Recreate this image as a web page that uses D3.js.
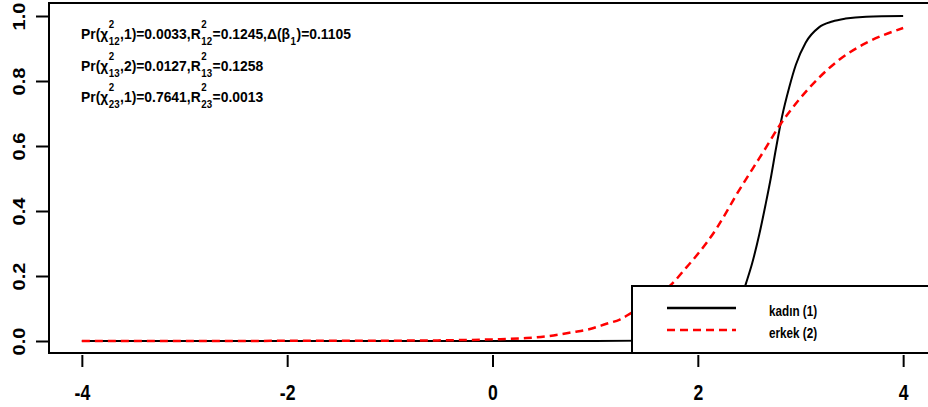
<!DOCTYPE html>
<html>
<head>
<meta charset="utf-8">
<script src="https://cdn.jsdelivr.net/npm/d3@7"></script>
<style>
  html, body { margin: 0; padding: 0; background: #fff; }
  svg { display: block; font-family: "Liberation Sans", Arial, sans-serif; }
</style>
</head>
<body>
<svg id="chart" width="928" height="407"></svg>
<script>
const width = 928;
const height = 407;
const svg = d3.select("#chart");

// values
const kadinX = [-4, -3, -2, -1, 0, 1, 2, 2.2, 2.3, 2.4, 2.47, 2.53, 2.6, 2.66, 2.71, 2.76, 2.82, 2.89, 2.955, 3.05, 3.18, 3.31, 3.44, 3.64, 4];
const kadinY = [0, 0, 0, 0, 0, 0, 0.005, 0.03, 0.06, 0.11, 0.178, 0.24, 0.33, 0.42, 0.5, 0.59, 0.69, 0.78, 0.85, 0.918, 0.965, 0.983, 0.992, 0.998, 1];

const erkekX = [-4, -3, -2, -1, -0.5, 0, 0.33, 0.52, 0.78, 0.95, 1.11, 1.24, 1.35, 1.55, 1.755, 1.885, 1.98, 2.08, 2.18, 2.27, 2.37, 2.47, 2.57, 2.65, 2.79, 2.99, 3.18, 3.38, 3.64, 4];
const erkekY = [0, 0, 0.0005, 0.001, 0.002, 0.005, 0.009, 0.014, 0.027, 0.037, 0.053, 0.066, 0.086, 0.125, 0.178, 0.225, 0.26, 0.30, 0.345, 0.392, 0.447, 0.498, 0.548, 0.588, 0.66, 0.744, 0.810, 0.866, 0.917, 0.963];

const xTicks = [-4, -2, 0, 2, 4];
const yTicks = [0, 0.2, 0.4, 0.6, 0.8, 1.0];
const legendLabels = ["kadın (1)", "erkek (2)"];

// annotation lines: plain text, {sub, sup} stacked scripts
const noteLines = [
  ["Pr(χ", {sub: "12", sup: "2"}, ",1)=0.0033,R", {sub: "12", sup: "2"}, "=0.1245,Δ(β", {sub: "1"}, ")=0.1105"],
  ["Pr(χ", {sub: "13", sup: "2"}, ",2)=0.0127,R", {sub: "13", sup: "2"}, "=0.1258"],
  ["Pr(χ", {sub: "23", sup: "2"}, ",1)=0.7641,R", {sub: "23", sup: "2"}, "=0.0013"]
];

const plotLeft = 49, plotTop = 3, plotRight = 936, plotBottom = 354;

const x = d3.scaleLinear().domain([-4.32, 4.32]).range([plotLeft, plotRight]);
const y = d3.scaleLinear().domain([-0.04, 1.04]).range([plotBottom, plotTop]);

const line = d3.line()
    .x(d => x(d[0]))
    .y(d => y(d[1]))
    .curve(d3.curveMonotoneX);

const kadin = kadinX.map((v, i) => [v, kadinY[i]]);
const erkek = erkekX.map((v, i) => [v, erkekY[i]]);

svg.append("path")
    .datum(kadin)
    .attr("d", line)
    .attr("fill", "none")
    .attr("stroke", "#000")
    .attr("stroke-width", 2);

svg.append("path")
    .datum(erkek)
    .attr("d", line)
    .attr("fill", "none")
    .attr("stroke", "#ff0000")
    .attr("stroke-width", 2.5)
    .attr("stroke-dasharray", "8,5");

// plot box
svg.append("rect")
    .attr("x", plotLeft)
    .attr("y", plotTop)
    .attr("width", plotRight - plotLeft)
    .attr("height", plotBottom - plotTop - 1)
    .attr("fill", "none")
    .attr("stroke", "#000")
    .attr("stroke-width", 2);

// x axis
const xAxis = svg.append("g")
    .attr("transform", "translate(0," + 355 + ")")
    .call(d3.axisBottom(x).tickValues(xTicks).tickSize(12).tickFormat(d => String(d)));
xAxis.select(".domain").remove();
xAxis.selectAll("line").attr("stroke", "#000").attr("stroke-width", 2);
xAxis.selectAll("text")
    .attr("y", 45)
    .attr("dy", 0)
    .attr("fill", "#000")
    .attr("font-size", 22)
    .attr("font-weight", "bold")
    .attr("font-family", "Liberation Sans, Arial, sans-serif")
    .attr("transform", "scale(0.8,1)");

// y axis
const yAxis = svg.append("g")
    .attr("transform", "translate(" + 48 + ",0)")
    .call(d3.axisLeft(y).tickValues(yTicks).tickSize(12).tickFormat(d3.format(".1f")));
yAxis.select(".domain").remove();
yAxis.selectAll("line").attr("stroke", "#000").attr("stroke-width", 2);
yAxis.selectAll("text")
    .attr("x", null)
    .attr("dy", 0)
    .attr("fill", "#000")
    .attr("font-size", 20)
    .attr("font-weight", "bold")
    .attr("font-family", "Liberation Sans, Arial, sans-serif")
    .attr("text-anchor", "middle")
    .attr("transform", "translate(-23,0) scale(0.85,1) rotate(-90)");

// annotation text with stacked sub/superscripts
const noteSize = 15;
const noteG = svg.append("g");
const noteBaselines = [38.5, 70.5, 101.5];
const lineGroups = [];
noteLines.forEach(function (tokens, li) {
    const g = noteG.append("g");
    let cx = 0;
    tokens.forEach(function (tk) {
        if (typeof tk === "string") {
            const t = g.append("text")
                .attr("x", cx).attr("y", 0)
                .attr("font-size", noteSize)
                .attr("font-weight", "bold")
                .text(tk);
            cx += t.node().getComputedTextLength();
        } else {
            let w = 0;
            if (tk.sub) {
                const s = g.append("text")
                    .attr("x", cx + 0.5).attr("y", 6.5)
                    .attr("font-size", noteSize * 0.7)
                    .attr("font-weight", "bold")
                    .text(tk.sub);
                w = Math.max(w, s.node().getComputedTextLength());
            }
            if (tk.sup) {
                const s = g.append("text")
                    .attr("x", cx + 0.5).attr("y", -11)
                    .attr("font-size", noteSize * 0.7)
                    .attr("font-weight", "bold")
                    .text(tk.sup);
                w = Math.max(w, s.node().getComputedTextLength());
            }
            cx += w + 1;
        }
    });
    lineGroups.push({g: g, w: cx, base: noteBaselines[li]});
});
const noteScale = 270 / lineGroups[0].w;
lineGroups.forEach(function (d) {
    d.g.attr("transform", "translate(81," + d.base + ") scale(" + noteScale + ",1)");
});

// legend
const legend = svg.append("g");
legend.append("rect")
    .attr("x", 632)
    .attr("y", 286)
    .attr("width", 400)
    .attr("height", 67)
    .attr("fill", "#fff")
    .attr("stroke", "#000")
    .attr("stroke-width", 2);

const legendStyles = [
    {color: "#000", dash: null, width: 2.5},
    {color: "#ff0000", dash: "8,5", width: 2.5}
];
const legendY = [308, 330];

legendLabels.forEach(function (label, i) {
    legend.append("line")
        .attr("x1", 667).attr("x2", 736)
        .attr("y1", legendY[i]).attr("y2", legendY[i])
        .attr("stroke", legendStyles[i].color)
        .attr("stroke-width", legendStyles[i].width)
        .attr("stroke-dasharray", legendStyles[i].dash);
    legend.append("text")
        .attr("transform", "translate(769," + (legendY[i] + 7.5) + ") scale(0.78,1)")
        .attr("font-size", 15)
        .attr("font-weight", "bold")
        .text(label);
});
</script>
</body>
</html>
